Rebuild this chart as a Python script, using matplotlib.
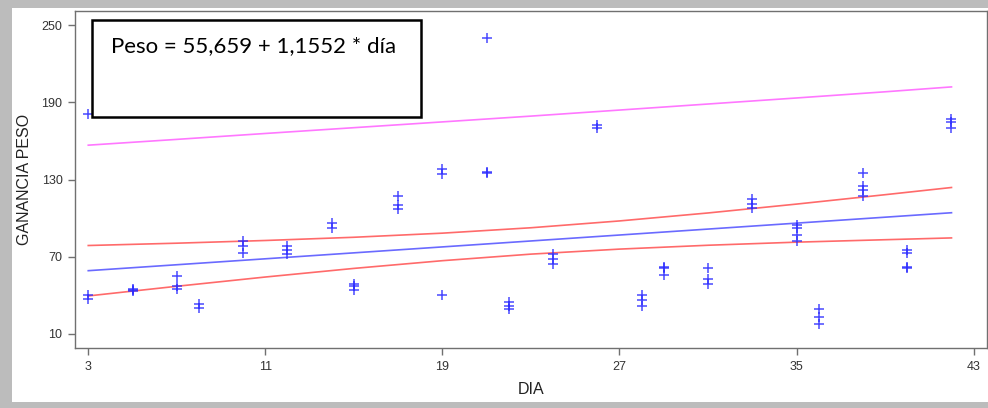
import matplotlib.pyplot as plt
from matplotlib.patches import Rectangle

# daily weight gain observations (several animals per day)
dia = [3, 3, 3,
       5, 5, 5,
       7, 7, 7,
       8, 8,
       10, 10, 10,
       12, 12, 12,
       14, 14,
       15, 15, 15,
       17, 17, 17,
       19, 19, 19,
       21, 21, 21,
       22, 22, 22,
       24, 24, 24,
       26, 26,
       28, 28, 28,
       29, 29, 29,
       31, 31, 31,
       33, 33, 33,
       35, 35, 35, 35,
       36, 36, 36,
       38, 38, 38, 38,
       40, 40, 40, 40,
       42, 42, 42]
ganancia = [181, 40, 37,
            45, 43, 44,
            55, 47, 45,
            33, 30,
            82, 78, 73,
            78, 75, 72,
            96, 92,
            49, 47, 44,
            117, 110, 107,
            138, 134, 40,
            240, 136, 135,
            35, 32, 29,
            72, 68, 64,
            172, 170,
            40, 36, 32,
            62, 61, 56,
            61, 53, 49,
            115, 111, 108,
            95, 92, 87, 82,
            29, 23, 18,
            135, 125, 122, 117,
            75, 73, 62, 61,
            177, 175, 170]

# fitted model
intercepto = 55.659
pendiente = 1.1552

# band limits
x_banda = [3, 7, 11, 15, 19, 23, 27, 31, 35, 39, 42]
ic_sup = [78.7, 80.5, 82.6, 85.1, 88.3, 92.5, 97.8, 104.0, 110.9, 118.2, 123.8]
ic_inf = [39.5, 47.0, 54.2, 60.9, 66.9, 72.0, 75.9, 78.9, 81.3, 83.2, 84.6]
pred_sup = [156.7, 161.2, 165.8, 170.3, 174.8, 179.3, 184.0, 188.7, 193.4, 198.2, 202.0]

x_ticks = [3, 11, 19, 27, 35, 43]
y_ticks = [10, 70, 130, 190, 250]

plt.rcParams['font.family'] = ['Liberation Sans', 'DejaVu Sans']

fig = plt.figure(figsize=(9.88, 4.08), dpi=100, facecolor='#bcbcbc')
# white sheet behind the chart
fig.patches.append(Rectangle((0.012, 0.015), 0.99, 0.965, transform=fig.transFigure,
                             facecolor='white', edgecolor='none', zorder=-10))

ax = fig.add_axes([0.0759, 0.147, 0.923, 0.826])
ax.set_zorder(2)
ax.set_xlim(2.4, 43.6)
ax.set_ylim(-1, 261)

for side in ['left', 'bottom', 'right', 'top']:
    ax.spines[side].set_color('#707070')
    ax.spines[side].set_linewidth(1.0)

x_fit = [x_banda[0], x_banda[-1]]
y_fit = [intercepto + pendiente * x for x in x_fit]
ax.plot(x_banda, pred_sup, color='#ff77ff', lw=1.2)
ax.plot(x_banda, ic_sup, color='#ff6a6a', lw=1.2)
ax.plot(x_banda, ic_inf, color='#ff6a6a', lw=1.2)
ax.plot(x_fit, y_fit, color='#6a6aff', lw=1.2)

ax.plot(dia, ganancia, linestyle='none', marker='+', markersize=7.5,
        markeredgewidth=1.1, color='#2a2aff', alpha=0.85)

ax.set_xticks(x_ticks)
ax.set_yticks(y_ticks)
ax.tick_params(direction='out', length=5, width=1, color='#707070',
               labelsize=9, labelcolor='#333333', pad=4)
ax.set_xlabel('DIA', fontsize=11.5, color='#222222', labelpad=7)
ax.set_ylabel('GANANCIA PESO', fontsize=11.5, color='#222222', labelpad=7)

# equation box
ax.add_patch(Rectangle((0.0186, 0.685), 0.361, 0.288, transform=ax.transAxes,
                       facecolor='white', edgecolor='black', lw=1.8, zorder=5))
ax.text(0.0395, 0.878, 'Peso = 55,659 + 1,1552 * día', transform=ax.transAxes,
        fontsize=16, family=['Lato', 'DejaVu Sans'], color='black',
        va='baseline', ha='left', zorder=6)

fig.savefig('out.png', dpi=100, facecolor=fig.get_facecolor())
